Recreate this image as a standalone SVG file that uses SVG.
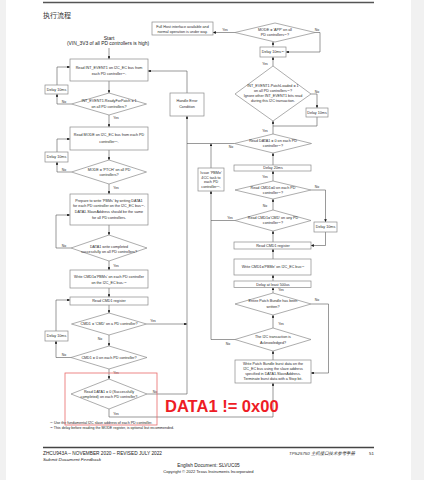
<svg xmlns="http://www.w3.org/2000/svg" width="424" height="480" viewBox="0 0 424 480">
<style>
.box{fill:#fff;stroke:#8a8a8a;stroke-width:0.7}
.dia{fill:#fff;stroke:#8a8a8a;stroke-width:0.7}
.t{font-family:"Liberation Sans",Arial,sans-serif;font-size:3.7px;fill:#2a2a2a;text-anchor:middle}
.l{font-family:"Liberation Sans",Arial,sans-serif;font-size:3.4px;fill:#2a2a2a;text-anchor:middle}
.c{fill:none;stroke:#555;stroke-width:0.6}
.a{marker-end:url(#ah)}
.f{font-family:"Liberation Sans",Arial,sans-serif;fill:#222}
</style>
<defs>
<marker id="ah" viewBox="0 0 4 4" refX="4" refY="2" markerWidth="2.8" markerHeight="2.8" markerUnits="userSpaceOnUse" orient="auto">
<path d="M0,0 L4,2 L0,4 z" fill="#111"/>
</marker>
</defs>
<rect x="0" y="0" width="424" height="480" fill="#fff"/>
<rect x="0" y="0" width="6" height="480" fill="#f1f1f1"/>
<rect x="411" y="0" width="13" height="480" fill="#f1f1f1"/>
<line x1="43" y1="2.5" x2="374" y2="2.5" stroke="#555" stroke-width="1.4"/>
<text x="43" y="17.5" font-family="Noto Sans CJK SC,sans-serif" font-size="7" fill="#333">执行流程</text>

<g id="connectors">
<path class="c a" d="M109,48 V59"/>
<path class="c a" d="M109,81 V93"/>
<path class="c a" d="M71.5,104 H57 V94"/>
<path class="c a" d="M57,85 V67 H70"/>
<path class="c a" d="M109,115 V127"/>
<path class="c a" d="M109,150 V160"/>
<path class="c a" d="M71.5,172 H57 V162"/>
<path class="c a" d="M57,152 V139 H70"/>
<path class="c a" d="M109,184 V194"/>
<path class="c a" d="M71,248 H56 V215 H70"/>
<path class="c a" d="M109,225 V235"/>
<path class="c a" d="M109,261 V270"/>
<path class="c a" d="M109,288 V297"/>
<path class="c a" d="M109,305 V313"/>
<path class="c a" d="M146.5,324 H187"/>
<path class="c a" d="M109,335 V346"/>
<path class="c a" d="M56,331 V300 H70"/>
<path class="c a" d="M71,357.5 H56 V341"/>
<path class="c a" d="M109,369 V379"/>
<path class="c a" d="M147,394 H187 V116"/>
<path class="c a" d="M109,409 V417 H273 V383"/>
<path class="c a" d="M187,93 V71 H148"/>
<path class="c" d="M234.5,143.5 H187"/>
<path class="c a" d="M211,168 V143.5"/>
<path class="c a" d="M235,339.5 H211 V191"/>
<path class="c" d="M235,220.5 H211"/>
<path class="c a" d="M235,32.5 H213"/>
<path class="c a" d="M315,32.5 H320 V52 H286"/>
<path class="c a" d="M273,47 V42"/>
<path class="c a" d="M273,66 V57"/>
<path class="c a" d="M311,94 H317 V108"/>
<path class="c" d="M317,117 V126 H273"/>
<path class="c a" d="M273,134 V121"/>
<path class="c a" d="M273,165 V153"/>
<path class="c a" d="M273,181 V171"/>
<path class="c a" d="M311,190 H325.5 V222"/>
<path class="c a" d="M325.5,232 V245.5 H311"/>
<path class="c a" d="M273,210 V199"/>
<path class="c a" d="M273,242 V231"/>
<path class="c a" d="M273,259 V249"/>
<path class="c a" d="M273,281 V275"/>
<path class="c a" d="M273,293 V287.5"/>
<path class="c a" d="M311,304 H328.5 V373 H311"/>
<path class="c a" d="M273,328 V315"/>
<path class="c a" d="M273,360 V351"/>
</g>

<g id="labels">
<text class="l" x="64" y="103">No</text>
<text class="l" x="116" y="119">Yes</text>
<text class="l" x="64" y="171">No</text>
<text class="l" x="116" y="189">Yes</text>
<text class="l" x="64" y="246.5">No</text>
<text class="l" x="116" y="267">Yes</text>
<text class="l" x="153" y="321.5">Yes</text>
<text class="l" x="100" y="339.5">No</text>
<text class="l" x="64" y="355.5">No</text>
<text class="l" x="116" y="374">Yes</text>
<text class="l" x="155" y="392.5">No</text>
<text class="l" x="116" y="414.5">Yes</text>
<text class="l" x="231" y="148">No</text>
<text class="l" x="230" y="219">Yes</text>
<text class="l" x="228" y="345">No</text>
<text class="l" x="225" y="31">Yes</text>
<text class="l" x="317" y="30.5">No</text>
<text class="l" x="265" y="65">Yes</text>
<text class="l" x="317" y="92.5">No</text>
<text class="l" x="265" y="132">Yes</text>
<text class="l" x="265" y="177.5">Yes</text>
<text class="l" x="317" y="188">No</text>
<text class="l" x="265" y="207">No</text>
<text class="l" x="281" y="291">Yes</text>
<text class="l" x="317" y="301">No</text>
<text class="l" x="281" y="324.5">Yes</text>
</g>

<g id="start">
<text class="f" x="109" y="39.8" font-size="5" text-anchor="middle">Start</text>
<text class="f" x="108" y="45" font-size="4.9" text-anchor="middle">(VIN_3V3 of all PD controllers is high)</text>
</g>
<g id="read-int-event1">
<rect class="box" x="70" y="59" width="78" height="22"/>
<text class="t" x="109" y="69">Read INT_EVENT1 on I2C_EC bus from</text>
<text class="t" x="109" y="75">each PD controller<tspan font-size="2.5" dy="-1">(1)</tspan><tspan dy="1">.</tspan></text>
</g>
<g id="ready-for-patch">
<polygon class="dia" points="109,93 146.5,104 109,115 71.5,104"/>
<text class="t" x="109" y="102">INT_EVENT1.ReadyForPatch = 1</text>
<text class="t" x="109" y="107.5">on all PD controllers?</text>
</g>
<g id="delay-a">
<rect class="box" x="45" y="85" width="23" height="9"/>
<text class="t" x="56.5" y="90.8">Delay 10ms</text>
</g>
<g id="read-mode">
<rect class="box" x="70" y="127" width="78" height="23"/>
<text class="t" x="109" y="136">Read MODE on I2C_EC bus from each PD</text>
<text class="t" x="109" y="142.5">controller<tspan font-size="2.5" dy="-1">(1)</tspan><tspan dy="1">.</tspan></text>
</g>
<g id="mode-ptch">
<polygon class="dia" points="109,160 146.5,172 109,184 71.5,172"/>
<text class="t" x="109" y="170.5">MODE = 'PTCH' on all PD</text>
<text class="t" x="109" y="176">controllers?</text>
</g>
<g id="delay-b">
<rect class="box" x="45" y="152" width="23" height="10"/>
<text class="t" x="56.5" y="158.3">Delay 10ms</text>
</g>
<g id="prepare">
<rect class="box" x="70" y="194" width="78" height="31"/>
<text class="t" x="109" y="202">Prepare to write 'PBMs' by writing DATA1</text>
<text class="t" x="109" y="207.3">for each PD controller on the I2C_EC bus<tspan font-size="2.5" dy="-1">(1)</tspan><tspan dy="1">.</tspan></text>
<text class="t" x="109" y="212.6">DATA1.SlaveAddress should be the same</text>
<text class="t" x="109" y="218.5">for all PD controllers.</text>
</g>
<g id="data1-written">
<polygon class="dia" points="109,235 147,248 109,261 71,248"/>
<text class="t" x="109" y="247.5">DATA1 write completed</text>
<text class="t" x="109" y="252.5">successfully on all PD controllers?</text>
</g>
<g id="write-pbms">
<rect class="box" x="70" y="270" width="78" height="18"/>
<text class="t" x="109" y="278.3">Write CMD1='PBMs' on each PD controller</text>
<text class="t" x="109" y="284.3">on the I2C_EC bus.<tspan font-size="2.5" dy="-1">(1)</tspan></text>
</g>
<g id="read-cmd1-a">
<rect class="box" x="70" y="297" width="78" height="8"/>
<text class="t" x="109" y="302.4">Read CMD1 register</text>
</g>
<g id="cmd-on-a">
<polygon class="dia" points="109,313 146.5,324 109,335 71.5,324"/>
<text class="t" x="109" y="325.4">CMD1 = 'CMD' on a PD controller?</text>
</g>
<g id="delay-c">
<rect class="box" x="45" y="331" width="23" height="10"/>
<text class="t" x="56.5" y="337.3">Delay 10ms</text>
</g>
<g id="cmd1-zero">
<polygon class="dia" points="109,346 147,357.5 109,369 71,357.5"/>
<text class="t" x="109" y="358.8">CMD1 = 0 on each PD controller?</text>
</g>
<g id="data1-zero-a">
<polygon class="dia" points="109,379 147,394 109,409 71,394"/>
<text class="t" x="109" y="392.5">Read DATA1 = 0 (Successfully</text>
<text class="t" x="109" y="398">completed) on each PD controller?</text>
</g>
<g id="handle-error">
<rect class="box" x="170" y="93" width="34" height="23"/>
<text class="t" x="187" y="102.3">Handle Error</text>
<text class="t" x="187" y="108">Condition</text>
</g>
<g id="issue-pbme">
<rect class="box" x="198" y="168" width="26" height="23"/>
<text class="t" x="211" y="174.3">Issue 'PBMe'</text>
<text class="t" x="211" y="178.8">4CC task to</text>
<text class="t" x="211" y="183.3">each PD</text>
<text class="t" x="211" y="187.8">controller<tspan font-size="2.5" dy="-1">(1)</tspan><tspan dy="1">.</tspan></text>
</g>
<g id="full-host">
<rect class="box" x="152" y="22" width="61" height="13"/>
<text class="t" x="182.5" y="28.2" font-size="3.4">Full Host interface available and</text>
<text class="t" x="182.5" y="33" font-size="3.4">normal operation is under way.</text>
</g>
<g id="mode-app">
<polygon class="dia" points="275,23 315,32.5 275,42 235,32.5"/>
<text class="t" x="275" y="30.5">MODE = 'APP' on all</text>
<text class="t" x="275" y="35.5">PD controllers<tspan font-size="2.5" dy="-1">(1)</tspan><tspan dy="1">?</tspan></text>
</g>
<g id="delay-d">
<rect class="box" x="260" y="47" width="26" height="10"/>
<text class="t" x="273" y="53.3">Delay 10ms<tspan font-size="2.5" dy="-1">(2)</tspan></text>
</g>
<g id="patch-loaded">
<polygon class="dia" points="273,66 311,94 273,121 235,94"/>
<text class="t" x="273" y="86.5">INT_EVENT1.PatchLoaded = 1</text>
<text class="t" x="273" y="91.5">on all PD controllers<tspan font-size="2.5" dy="-1">(1)</tspan><tspan dy="1">?</tspan></text>
<text class="t" x="273" y="96.5">Ignore other INT_EVENT1 bits read</text>
<text class="t" x="273" y="101.5">during this I2C transaction.</text>
</g>
<g id="delay-e">
<rect class="box" x="306" y="108" width="22" height="9"/>
<text class="t" x="317" y="113.8">Delay 10ms</text>
</g>
<g id="data1-zero-b">
<polygon class="dia" points="273,134 311.5,143.5 273,153 234.5,143.5"/>
<text class="t" x="273" y="142">Read DATA1 = 0 on each PD</text>
<text class="t" x="273" y="147.2">controller<tspan font-size="2.5" dy="-1">(1)</tspan><tspan dy="1">?</tspan></text>
</g>
<g id="delay-20">
<rect class="box" x="234" y="165" width="77" height="6"/>
<text class="t" x="273" y="169.3">Delay 20ms</text>
</g>
<g id="cmd1-zero-b">
<polygon class="dia" points="273,181 311,190 273,199 235,190"/>
<text class="t" x="273" y="189">Read CMD1=0 on each PD</text>
<text class="t" x="273" y="194">controller<tspan font-size="2.5" dy="-1">(1)</tspan><tspan dy="1">?</tspan></text>
</g>
<g id="cmd-any">
<polygon class="dia" points="273,210 311,220.5 273,231 235,220.5"/>
<text class="t" x="273" y="219">Read CMD1='CMD' on any PD</text>
<text class="t" x="273" y="224.2">controller<tspan font-size="2.5" dy="-1">(1)</tspan><tspan dy="1">?</tspan></text>
</g>
<g id="delay-f">
<rect class="box" x="314" y="222" width="23" height="10"/>
<text class="t" x="325.5" y="228.3">Delay 10ms</text>
</g>
<g id="read-cmd1-b">
<rect class="box" x="234" y="242" width="77" height="7"/>
<text class="t" x="273" y="246.9">Read CMD1 register</text>
</g>
<g id="write-pbme">
<rect class="box" x="234" y="259" width="77" height="16"/>
<text class="t" x="273" y="268.2">Write CMD1='PBMe' on I2C_EC bus<tspan font-size="2.5" dy="-1">(1)</tspan></text>
</g>
<g id="delay-500">
<rect class="box" x="234" y="281" width="77" height="6.5"/>
<text class="t" x="273" y="285.6">Delay at least 500us</text>
</g>
<g id="entire-bundle">
<polygon class="dia" points="273,293 311,304 273,315 235,304"/>
<text class="t" x="273" y="302.3">Entire Patch Bundle has been</text>
<text class="t" x="273" y="307.6">written?</text>
</g>
<g id="acknowledged">
<polygon class="dia" points="273,328 311,339.5 273,351 235,339.5"/>
<text class="t" x="273" y="338">The I2C transaction is</text>
<text class="t" x="273" y="343.5">Acknowledged?</text>
</g>
<g id="write-burst">
<rect class="box" x="235" y="360" width="76" height="23"/>
<text class="t" x="273" y="364.6" font-size="3.5">Write Patch Bundle burst data on the</text>
<text class="t" x="273" y="369.8" font-size="3.5">I2C_EC bus using the slave address</text>
<text class="t" x="273" y="375" font-size="3.5">specified in DATA1.SlaveAddress.</text>
<text class="t" x="273" y="380.2" font-size="3.5">Terminate burst data with a Stop bit.</text>
</g>

<g id="footnotes">
<text class="f" x="50" y="424" font-size="3.6"><tspan font-size="2.4" dy="-1.2">(1)</tspan><tspan dy="1.2"> Use the fundamental I2C slave address of each PD controller.</tspan></text>
<text class="f" x="50" y="429" font-size="3.6"><tspan font-size="2.4" dy="-1.2">(2)</tspan><tspan dy="1.2"> This delay before reading the MODE register, is optional but recommended.</tspan></text>
</g>

<g id="annotation">
<rect x="65" y="373" width="92" height="52" fill="none" stroke="#e86a6a" stroke-width="0.8"/>
<text x="165" y="412" font-family="Liberation Sans,Arial,sans-serif" font-weight="bold" font-size="16.5" fill="#ee1c25">DATA1 != 0x00</text>
</g>

<g id="footer">
<line x1="43" y1="447.5" x2="374" y2="447.5" stroke="#444" stroke-width="1.3"/>
<text class="f" x="43" y="454.5" font-size="4.6" textLength="119" lengthAdjust="spacingAndGlyphs">ZHCU943A – NOVEMBER 2020 – REVISED JULY 2022</text>
<text class="f" x="43" y="460.5" font-size="4.4" font-style="italic" fill="#2a3fd8" textLength="58" lengthAdjust="spacingAndGlyphs">Submit Document Feedback</text>
<text x="289" y="454.5" font-family="Liberation Sans,Noto Sans CJK SC,sans-serif" font-size="4.4" font-style="italic" fill="#333">TPS25750 主机接口技术参考手册</text>
<text class="f" x="369" y="454.5" font-size="4.4">51</text>
<text class="f" x="208.5" y="466.5" font-size="4.8" fill="#3a3af0" text-anchor="middle">English Document: SLVUC05</text>
<text class="f" x="208.5" y="472.5" font-size="4.1" text-anchor="middle">Copyright © 2022 Texas Instruments Incorporated</text>
</g>
</svg>
